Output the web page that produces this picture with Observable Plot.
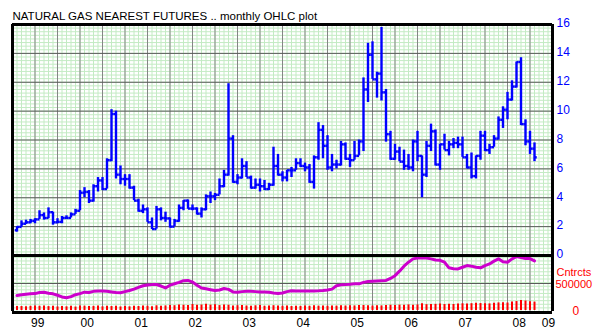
<!DOCTYPE html>
<html>
<head>
<meta charset="utf-8">
<script src="https://cdn.jsdelivr.net/npm/d3@7"></script>
<script src="https://cdn.jsdelivr.net/npm/@observablehq/plot@0.6"></script>
<style>
  html, body { margin: 0; padding: 0; background: #ffffff; }
  #chart svg { display: block; }
</style>
</head>
<body>
<div id="chart"></div>
<script>
// ---------- DATA (monthly, Mar 1999 .. Oct 2008) ----------
const title = "NATURAL GAS NEAREST FUTURES .. monthly OHLC plot";
const firstMonth = 2; // month index: Jan 1999 = 0, first bar = Mar 1999

const open = [
  1.75,1.98,2.20,2.30,2.40,2.50,2.80,2.60,3.00,2.30,
  2.33,2.60,2.60,2.85,3.10,4.35,4.40,3.80,4.80,5.20,4.60,6.60,
  9.80,5.60,5.30,5.30,4.70,3.80,3.10,3.20,2.30,1.83,3.20,2.60,
  2.57,2.00,2.40,3.30,3.80,3.25,3.25,2.90,3.20,4.10,4.10,4.20,
  4.80,5.60,8.10,5.10,5.40,6.20,5.40,4.70,4.90,4.80,4.60,4.90,
  6.20,5.60,5.40,5.90,5.90,6.40,6.20,6.10,5.10,6.80,8.70,7.60,
  6.10,6.30,6.30,7.70,6.70,6.60,6.90,7.90,11.50,13.90,12.20,12.60,
  11.30,8.40,6.70,7.20,6.50,6.20,6.10,7.90,6.90,5.60,7.60,8.60,
  6.30,7.70,7.30,7.70,7.80,7.70,6.80,6.10,5.50,6.90,8.30,7.30,
  7.50,8.10,9.40,10.10,10.80,11.70,13.40,9.10,7.90,7.40
];
const high = [
  2.00,2.40,2.45,2.50,2.55,3.10,2.95,3.30,3.00,2.55,
  2.70,2.75,2.95,3.20,4.50,4.70,4.50,4.90,5.40,5.40,6.70,10.10,
  10.00,6.20,5.60,5.60,4.80,3.90,3.50,3.30,2.60,3.40,3.30,3.00,
  2.60,2.50,3.50,3.80,3.85,3.50,3.30,3.30,4.20,4.40,4.30,5.30,
  5.90,11.90,8.30,5.60,6.70,6.50,5.50,5.30,5.30,5.20,5.00,7.50,
  7.00,5.80,5.90,6.10,6.70,6.70,6.40,6.30,6.90,9.20,9.00,8.30,
  7.00,6.60,7.90,7.80,7.00,7.90,8.00,12.30,14.70,14.80,12.70,15.80,
  11.50,8.60,7.70,7.50,7.30,7.00,8.00,8.60,6.90,7.90,9.10,8.70,
  7.70,8.40,7.90,8.10,8.20,8.20,7.00,7.10,6.90,8.60,8.60,7.70,
  8.30,9.60,10.30,11.30,12.10,13.40,13.70,9.40,8.60,7.80
];
const low = [
  1.62,1.95,2.15,2.20,2.20,2.50,2.45,2.55,2.10,2.20,
  2.20,2.50,2.60,2.85,3.10,4.00,3.60,3.70,4.40,4.50,4.60,6.50,
  5.30,4.90,4.80,4.60,3.80,3.00,2.90,2.30,1.80,1.83,2.40,2.30,
  1.90,2.00,2.30,3.10,3.20,3.10,2.80,2.60,3.10,3.60,3.80,4.20,
  4.70,5.50,5.00,4.90,5.30,5.40,4.60,4.60,4.40,4.50,4.50,4.80,
  5.50,5.10,5.10,5.40,5.90,6.10,5.80,5.00,4.60,6.60,6.70,5.90,
  5.80,6.00,6.20,6.60,6.10,6.60,6.90,7.20,10.60,12.20,10.90,10.70,
  7.85,6.60,6.60,6.50,5.90,5.90,5.80,6.50,4.00,5.40,7.20,6.20,
  5.90,7.30,6.90,7.40,7.40,6.80,6.00,5.30,5.30,6.60,7.20,7.00,
  7.50,8.00,8.80,9.40,10.70,11.60,9.00,7.60,7.00,6.50
];
const close = [
  1.98,2.20,2.30,2.40,2.50,2.80,2.60,3.00,2.30,2.33,
  2.60,2.60,2.85,3.10,4.35,4.40,3.80,4.80,5.20,4.60,6.60,9.80,
  5.60,5.30,5.30,4.70,3.80,3.10,3.20,2.30,1.83,3.20,2.60,2.57,
  2.00,2.40,3.30,3.80,3.25,3.25,2.90,3.20,4.10,4.10,4.20,4.80,
  5.60,8.10,5.10,5.40,6.20,5.40,4.70,4.90,4.80,4.60,4.90,6.20,
  5.60,5.40,5.90,5.90,6.40,6.20,6.10,5.10,6.80,8.70,7.60,6.10,
  6.30,6.30,7.70,6.70,6.60,6.90,7.90,11.50,13.90,12.20,12.60,11.30,
  8.40,6.70,7.20,6.50,6.20,6.10,7.90,6.90,5.60,7.60,8.60,6.30,
  7.70,7.30,7.70,7.80,7.70,6.80,6.10,5.50,6.90,8.30,7.30,7.50,
  8.10,9.40,10.10,10.80,11.70,13.40,9.10,7.90,7.40,6.80
];
// open interest, contracts (thousands)
const openInterest = [
  285,300,310,315,320,340,345,325,315,290,
  260,245,265,300,320,345,340,360,365,365,360,350,
  340,335,355,375,400,430,460,475,480,482,455,420,
  470,495,520,550,555,525,470,420,405,390,375,385,
  410,395,350,345,355,360,360,355,350,350,345,330,
  320,330,355,370,365,365,365,365,368,370,375,385,
  400,460,476,480,485,494,494,520,536,540,545,550,
  554,590,640,720,810,880,940,955,960,955,940,920,
  915,880,780,765,760,790,820,810,790,780,820,850,
  900,940,890,880,940,980,965,945,945,905
];
// volume, contracts (thousands)
const volume = [
  70,72,66,75,80,76,82,70,74,64,
  72,66,76,62,80,78,70,74,82,66,76,72,
  78,64,70,66,74,72,80,76,66,84,78,82,
  90,86,100,94,88,106,92,98,110,96,102,88,
  100,94,82,86,90,80,78,84,88,76,82,86,
  80,76,82,72,78,74,80,76,84,78,82,76,
  82,78,86,80,84,82,88,90,84,80,86,82,
  90,94,88,96,92,100,94,98,120,104,108,110,
  114,106,110,108,114,120,116,122,128,124,120,118,
  130,136,140,134,150,160,180,170,156,150
];
const priceTicks = [0,2,4,6,8,10,12,14,16];
const yearLabels = ["99","00","01","02","03","04","05","06","07","08","09"];
const contractsLabel = "Cntrcts";
const contractsTick = 500000;
const contractsMax = 1000000;

// ---------- build ----------
const xDomain = [1, 121];
const lowerUnits = 3.878;          // height of the lower panel in price units
const LOW = -lowerUnits;
const yLow = v => LOW + (v / contractsMax) * lowerUnits;

const bars = open.map((o, k) => ({i: firstMonth + k, open: o, high: high[k], low: low[k], close: close[k]}));
const oi = openInterest.map((v, k) => ({i: firstMonth + k, v: v * 1000}));
const vol = volume.map((v, k) => ({i: firstMonth + k, v: v * 1000}));

const minorX = d3.range(xDomain[0], xDomain[1] + 0.001, 1);
const majorX = d3.range(0, 25).map(k => xDomain[0] + k * (xDomain[1] - xDomain[0]) / 24);
const minorY = d3.range(LOW, 0, 0.25).concat(d3.range(0, 16.001, 0.25));
const majorY = priceTicks.concat([yLow(contractsTick)]);

const yearPos = yearLabels.map((t, k) => {
  const lo = Math.max(12 * k, firstMonth);
  const hi = Math.min(12 * k + 12, xDomain[1]);
  return {t, x: (lo + hi) / 2 - 0.4};
});

const blue = "#0000ff", red = "#ff0000", magenta = "#cc00cc";

const chart = Plot.plot({
  width: 603,
  height: 334,
  marginLeft: 12,
  marginRight: 51,
  marginTop: 24,
  marginBottom: 23,
  x: {domain: xDomain, axis: null},
  y: {domain: [LOW, 16], axis: null},
  style: {background: "#ffffff", fontFamily: "'Liberation Sans', Arial, sans-serif", fontSize: "12px"},
  marks: [
    Plot.ruleX(minorX, {x: d => d, y1: LOW, y2: 16, stroke: "#c4ebc4", strokeWidth: 1}),
    Plot.ruleY(minorY, {y: d => d, x1: xDomain[0], x2: xDomain[1], stroke: "#c4ebc4", strokeWidth: 1}),
    Plot.ruleX(majorX, {x: d => d, y1: LOW, y2: 16, stroke: "#858585", strokeWidth: 1}),
    Plot.ruleY(majorY, {y: d => d, x1: xDomain[0], x2: xDomain[1], stroke: "#5a5a5a", strokeWidth: 1}),
    // volume
    Plot.ruleX(vol, {x: "i", y1: LOW, y2: d => yLow(d.v), stroke: red, strokeWidth: 2, dy: -1}),
    // open interest
    Plot.line(oi, {x: "i", y: d => yLow(d.v), stroke: magenta, strokeWidth: 3}),
    // OHLC
    Plot.ruleX(bars, {x: "i", y1: "low", y2: "high", stroke: blue, strokeWidth: 2.4}),
    Plot.link(bars, {x1: d => d.i - 0.5, x2: "i", y1: "open", y2: "open", stroke: blue, strokeWidth: 2.4}),
    Plot.link(bars, {x1: "i", x2: d => d.i + 0.5, y1: "close", y2: "close", stroke: blue, strokeWidth: 2.4}),
    // borders
    Plot.ruleX(xDomain, {x: d => d, y1: LOW, y2: 16, stroke: "#000", strokeWidth: 3}),
    Plot.ruleY([16, 0], {y: d => d, x1: xDomain[0], x2: xDomain[1], stroke: "#000", strokeWidth: 3}),
    Plot.ruleY([LOW], {y: d => d, x1: xDomain[0], x2: xDomain[1], stroke: "#000", strokeWidth: 3, dy: 1}),
    // title
    Plot.text([title], {frameAnchor: "top-left", dy: -8, lineAnchor: "middle", textAnchor: "start", fill: "#000", fontSize: 11.5}),
    // right price axis
    Plot.text(priceTicks, {x: xDomain[1], y: d => d, text: d => String(d), dx: 4, dy: -1, textAnchor: "start", fill: blue, fontSize: 12}),
    // contracts labels
    Plot.text([contractsTick], {x: xDomain[1], y: d => yLow(d), text: d => String(d), dx: 3, dy: 1, textAnchor: "start", fill: red, fontSize: 11}),
    Plot.text([contractsLabel], {x: xDomain[1], y: yLow(contractsTick), dx: 4, dy: -11, textAnchor: "start", fill: red, fontSize: 11}),
    Plot.text([0], {x: xDomain[1], y: d => yLow(d), text: d => String(d), dx: 20, textAnchor: "start", fill: red, fontSize: 12}),
    // year labels
    Plot.text(yearPos, {x: "x", y: LOW, text: "t", dy: 12, textAnchor: "middle", fill: "#000", fontSize: 12})
  ]
});
document.getElementById("chart").appendChild(chart);
</script>
</body>
</html>
